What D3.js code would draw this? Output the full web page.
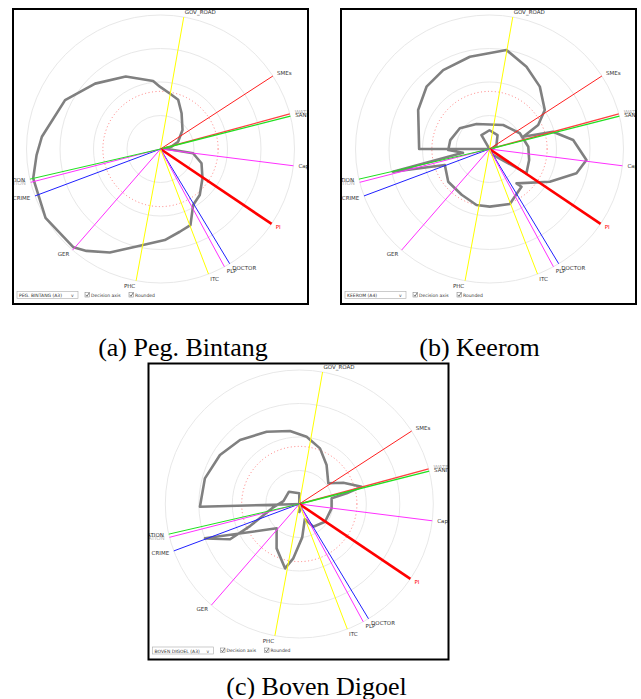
<!DOCTYPE html>
<html>
<head>
<meta charset="utf-8">
<script src="https://cdn.jsdelivr.net/npm/d3@7"></script>
<style>
  body { margin: 0; background: #fff; }
</style>
</head>
<body>
<svg id="fig" width="641" height="699"></svg>
<script>
// indicator axes, shared by the three regencies (angle in degrees, clockwise from north)
const axisNames  = ['GOV_ROAD', 'SMEs', 'WATER', 'SANITATION', 'Capital', 'PI', 'DOCTOR', 'PLP', 'ITC', 'PHC', 'GER', 'CRIME', 'EDUCATION', 'POPULATION'];
const axisAngles = [10, 57, 74.8, 75.8, 97.2, 124, 148.9, 151.5, 159, 190.5, 221, 249.5, 255.6, 257];
const axisColors = ['#ffff00', '#ff2020', '#ff4040', '#20e020', '#ff30ff', '#ff0000', '#2020ff', '#ff30ff', '#ffff00', '#ffff00', '#ff30ff', '#2020ff', '#ff30ff', '#20e020'];
const axisWidths = [1, 1, 1.3, 1.3, 1, 2.6, 1, 1, 1, 1, 1, 1, 1, 1];
const labelTones = ['#333', '#333', '#aaa', '#333', '#333', '#ff0000', '#333', '#333', '#333', '#333', '#333', '#333', '#bbb', '#333'];

const ringValues = [0.25, 0.5, 0.75, 1];
const thresholdValue = 0.43;

// grey profile of each regency: [angle, value] vertices
const bintangProfile = [
  [82, 0.03], [97.5, 0.245], [109.2, 0.324], [124.9, 0.382], [139.5, 0.451], [149.8, 0.484],
  [158.5, 0.61], [166.9, 0.634], [177.3, 0.68], [193.8, 0.75], [206.1, 0.86], [216, 0.94],
  [221.5, 0.98], [239.1, 1.0], [257, 0.975], [267.2, 0.926], [275.9, 0.89], [297.1, 0.80],
  [315, 0.69], [334.4, 0.60], [353.8, 0.51], [359.4, 0.465], [9.5, 0.42], [19.8, 0.39],
  [30.5, 0.31], [49.2, 0.217], [67.5, 0.142], [78, 0.084]
];
const keeromProfile = [
  [90, 0.02], [270, 0.525], [298.7, 0.607], [314.7, 0.661], [329.6, 0.683], [348, 0.704],
  [9.7, 0.75], [24.2, 0.673], [38.9, 0.598], [54.8, 0.505], [63.8, 0.405], [70, 0.268],
  [74.8, 0.49], [83.9, 0.628], [96.5, 0.728], [105.6, 0.674], [118.5, 0.512], [141.8, 0.326],
  [139.7, 0.369], [159.7, 0.437], [179.7, 0.43], [193.1, 0.429], [211.3, 0.40], [231.6, 0.393],
  [250.3, 0.354], [256.7, 0.74], [262, 0.2], [268.6, 0.308], [282.8, 0.30], [304.9, 0.27],
  [332.5, 0.21], [29.7, 0.206], [62.6, 0.255], [86.6, 0.29], [105.5, 0.307], [123.3, 0.33],
  [150, 0.05], [330, 0.12], [0, 0.14], [30, 0.12], [60, 0.06]
];
const digoelProfile = [
  [90, 0.02], [268.4, 0.742], [285.2, 0.73], [301.7, 0.696], [317.2, 0.651], [335.7, 0.592],
  [352.7, 0.549], [6.2, 0.505], [20.4, 0.443], [35, 0.355], [54.5, 0.266], [64.2, 0.365],
  [74.5, 0.483], [77.3, 0.362], [80, 0.245], [97.6, 0.243], [124.6, 0.233], [148.3, 0.199],
  [160, 0.12], [175, 0.25], [186.3, 0.408], [192.5, 0.492], [207.1, 0.372], [223, 0.248],
  [250, 0.749], [243, 0.58], [246, 0.4], [262, 0.2], [280, 0.12], [320, 0.12], [0, 0.08], [180, 0.06]
];

const regions = [
  { profile: bintangProfile, select: 'PEG. BINTANG (A3)', box: [13, 9, 295, 295],  cx: 160.5, cy: 149 },
  { profile: keeromProfile,  select: 'KEEROM (A4)',       box: [341, 9, 295, 295], cx: 489.5, cy: 149 },
  { profile: digoelProfile,  select: 'BOVEN DIGOEL (A3)', box: [148.5, 363.5, 300, 296], cx: 299.3, cy: 504 }
];
const captions = ['(a) Peg. Bintang', '(b) Keerom', '(c) Boven Digoel'];
const captionPos = [[183, 356], [479.5, 356], [316.5, 695]];

const svg = d3.select('#fig');
const R = 134;
const r = d3.scaleLinear().domain([0, 1]).range([0, R]);
const rad = d => d * Math.PI / 180;
const uiFont = '"DejaVu Sans", Verdana, sans-serif';

const radial = d3.lineRadial()
  .angle(d => rad(d[0]))
  .radius(d => r(d[1]))
  .curve(d3.curveLinearClosed);

regions.forEach((reg, i) => {
  const [bx, by, bw, bh] = reg.box;

  svg.append('clipPath').attr('id', 'clip' + i)
    .append('rect').attr('x', bx).attr('y', by).attr('width', bw).attr('height', bh);

  const panel = svg.append('g').attr('clip-path', `url(#clip${i})`);
  const g = panel.append('g').attr('transform', `translate(${reg.cx},${reg.cy})`);

  // grid rings
  g.selectAll('circle.ring')
    .data(ringValues)
    .join('circle')
      .attr('class', 'ring')
      .attr('r', d => r(d))
      .attr('fill', 'none')
      .attr('stroke', '#e8e8e8')
      .attr('stroke-width', 1);

  g.append('circle')
    .attr('r', r(thresholdValue))
    .attr('fill', 'none')
    .attr('stroke', '#ff6060')
    .attr('stroke-width', 0.8)
    .attr('stroke-dasharray', '1,2.5');

  // grey profile
  g.append('path')
    .attr('d', radial(reg.profile))
    .attr('fill', 'none')
    .attr('stroke', '#808080')
    .attr('stroke-width', 2.6)
    .attr('stroke-linejoin', 'round');

  // indicator axes
  const axes = axisNames.map((name, k) => ({
    name, a: axisAngles[k], color: axisColors[k], w: axisWidths[k], tone: labelTones[k]
  }));
  g.selectAll('line.axis')
    .data(axes)
    .join('line')
      .attr('class', 'axis')
      .attr('x1', 0).attr('y1', 0)
      .attr('x2', d => r(1) * Math.sin(rad(d.a)))
      .attr('y2', d => -r(1) * Math.cos(rad(d.a)))
      .attr('stroke', d => d.color)
      .attr('stroke-width', d => d.w);

  // faint labels first so the main one sits on top
  const strong = d => d.tone === '#333' || d.tone === '#ff0000';
  g.selectAll('text.lab')
    .data(axes.slice().sort((p, q) => strong(p) - strong(q)))
    .join('text')
      .attr('class', 'lab')
      .attr('x', d => (R + 5) * Math.sin(rad(d.a)))
      .attr('y', d => -(R + 5) * Math.cos(rad(d.a)))
      .attr('dy', '0.35em')
      .attr('text-anchor', d => d.a > 180 ? 'end' : 'start')
      .style('font-family', uiFont)
      .style('font-size', '5.5px')
      .attr('fill', d => d.tone)
      .text(d => d.name);

  // controls strip
  const ctl = panel.append('g').attr('transform', `translate(${bx},${by + bh - 12})`)
    .style('font-family', uiFont).style('font-size', '4.5px');
  ctl.append('rect').attr('x', 4).attr('y', -0.5).attr('width', 61).attr('height', 7)
    .attr('fill', '#fff').attr('stroke', '#aaa').attr('stroke-width', 0.6);
  ctl.append('text').attr('x', 6).attr('y', 5).attr('fill', '#333').text(reg.select);
  ctl.append('text').attr('x', 58).attr('y', 5).attr('fill', '#555').text('v');
  [['Decision axis', 72], ['Rounded', 116]].forEach(([t, x]) => {
    ctl.append('rect').attr('x', x).attr('y', 0.5).attr('width', 4.5).attr('height', 4.5)
      .attr('fill', '#fff').attr('stroke', '#777').attr('stroke-width', 0.5);
    ctl.append('path').attr('d', `M${x + 0.8},${2.8} L${x + 2},${4.3} L${x + 4.2},${0.8}`)
      .attr('fill', 'none').attr('stroke', '#222').attr('stroke-width', 0.6);
    ctl.append('text').attr('x', x + 6).attr('y', 4.8).attr('fill', '#333').text(t);
  });

  // frame
  svg.append('rect').attr('x', bx).attr('y', by).attr('width', bw).attr('height', bh)
    .attr('fill', 'none').attr('stroke', '#000').attr('stroke-width', 2);
});

svg.selectAll('text.caption')
  .data(captions)
  .join('text')
    .attr('class', 'caption')
    .attr('x', (d, i) => captionPos[i][0])
    .attr('y', (d, i) => captionPos[i][1])
    .attr('text-anchor', 'middle')
    .style('font-family', '"Liberation Serif", "Times New Roman", serif')
    .style('font-size', '26px')
    .attr('fill', '#000')
    .text(d => d);
</script>
</body>
</html>
